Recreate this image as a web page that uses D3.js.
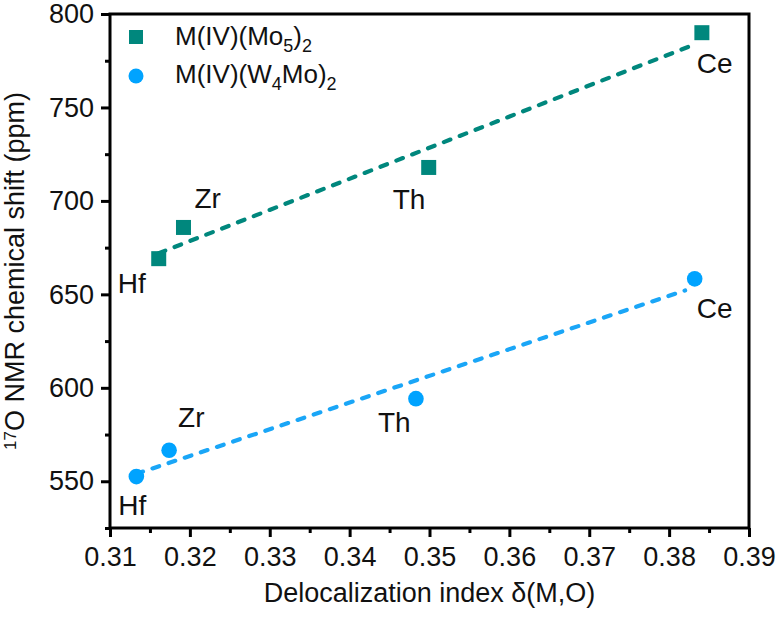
<!DOCTYPE html>
<html>
<head>
<meta charset="utf-8">
<script src="https://cdn.jsdelivr.net/npm/d3@7/dist/d3.min.js"></script>
<style>
  html, body { margin: 0; padding: 0; background: #fff; }
  svg { display: block; }
  text { font-family: "Liberation Sans", Arial, sans-serif; fill: #111; }
</style>
</head>
<body>
<svg id="chart" width="779" height="620"></svg>
<script>
// ---- data ----
const elements = ["Hf", "Zr", "Th", "Ce"];
const delocMo5 = [0.3161, 0.3192, 0.3499, 0.3841];
const shiftMo5 = [669.1, 685.8, 717.9, 790.0];
const delocW4Mo = [0.3133, 0.3174, 0.3483, 0.3832];
const shiftW4Mo = [552.5, 566.6, 594.2, 658.3];
const xTickValues = [0.31, 0.32, 0.33, 0.34, 0.35, 0.36, 0.37, 0.38, 0.39];
const xMinorValues = [0.315, 0.325, 0.335, 0.345, 0.355, 0.365, 0.375, 0.385];
const yTickValues = [550, 600, 650, 700, 750, 800];
const yMinorValues = [525, 575, 625, 675, 725, 775];
const xDomain = [0.31, 0.39];
const yDomain = [525, 800];

// ---- layout ----
const M = { left: 110, right: 749, top: 14, bottom: 528 };
const C1 = "#00877d", C2 = "#00a3ff", C2line = "#1aa6f7";
const svg = d3.select("#chart");
const x = d3.scaleLinear().domain(xDomain).range([M.left, M.right]);
const y = d3.scaleLinear().domain(yDomain).range([M.bottom, M.top]);

// label offsets (dx, dy baseline) for each point
const offMo5 = [[-41, 34], [11, -19], [-36, 42], [-5, 40]];
const offW4Mo = [[-18, 38], [9, -23], [-38, 33], [2, 39]];

function fit(xs, ys) {
  const mx = d3.mean(xs), my = d3.mean(ys);
  let sxy = 0, sxx = 0;
  xs.forEach((v, i) => { sxy += (v - mx) * (ys[i] - my); sxx += (v - mx) ** 2; });
  const b = sxy / sxx, a = my - b * mx;
  const x0 = d3.min(xs), x1 = d3.max(xs) - 0.0012;
  return [[x0, a + b * x0], [x1, a + b * x1]];
}

const line = d3.line().x(d => x(d[0])).y(d => y(d[1]));

// fit lines
svg.append("path").attr("d", line(fit(delocMo5, shiftMo5)))
  .attr("fill", "none").attr("stroke", C1).attr("stroke-width", 4.2)
  .attr("stroke-dasharray", "7,10").attr("stroke-linecap", "round");
svg.append("path").attr("d", line(fit(delocW4Mo, shiftW4Mo)))
  .attr("fill", "none").attr("stroke", C2line).attr("stroke-width", 4.2)
  .attr("stroke-dasharray", "7,10").attr("stroke-linecap", "round");

// markers
const sq = 15;
svg.selectAll("rect.mo5").data(delocMo5).enter().append("rect")
  .attr("x", (d) => x(d) - sq / 2)
  .attr("y", (d, i) => y(shiftMo5[i]) - sq / 2)
  .attr("width", sq).attr("height", sq).attr("fill", C1);
svg.selectAll("circle.w4").data(delocW4Mo).enter().append("circle")
  .attr("cx", d => x(d)).attr("cy", (d, i) => y(shiftW4Mo[i]))
  .attr("r", 7.8).attr("fill", C2);

// point labels
elements.forEach((el, i) => {
  svg.append("text").attr("x", x(delocMo5[i]) + offMo5[i][0])
    .attr("y", y(shiftMo5[i]) + offMo5[i][1]).attr("font-size", 28).text(el);
  svg.append("text").attr("x", x(delocW4Mo[i]) + offW4Mo[i][0])
    .attr("y", y(shiftW4Mo[i]) + offW4Mo[i][1]).attr("font-size", 28).text(el);
});

// axes
const fmtX = d3.format(".2f");
const gx = svg.append("g").attr("transform", `translate(0,${M.bottom})`)
  .call(d3.axisBottom(x).tickValues(xTickValues).tickFormat(fmtX).tickSize(9).tickPadding(10));
const gxm = svg.append("g").attr("transform", `translate(0,${M.bottom})`)
  .call(d3.axisBottom(x).tickValues(xMinorValues).tickFormat("").tickSize(5));
const gy = svg.append("g").attr("transform", `translate(${M.left},0)`)
  .call(d3.axisLeft(y).tickValues(yTickValues).tickSize(9).tickPadding(7));
const gym = svg.append("g").attr("transform", `translate(${M.left},0)`)
  .call(d3.axisLeft(y).tickValues(yMinorValues).tickFormat("").tickSize(5));
[gx, gxm, gy, gym].forEach(g => {
  g.select(".domain").remove();
  g.selectAll(".tick line").attr("stroke", "#000").attr("stroke-width", 3);
  g.selectAll(".tick text").attr("font-size", 27).attr("fill", "#111")
    .attr("font-family", "'Liberation Sans', Arial, sans-serif");
});

// frame
svg.append("rect").attr("x", M.left).attr("y", M.top)
  .attr("width", M.right - M.left).attr("height", M.bottom - M.top)
  .attr("fill", "none").attr("stroke", "#000").attr("stroke-width", 3);

// legend
svg.append("rect").attr("x", 136 - 7).attr("y", 37 - 7).attr("width", 14).attr("height", 14).attr("fill", C1);
svg.append("circle").attr("cx", 136).attr("cy", 76).attr("r", 7.5).attr("fill", C2);
const l1 = svg.append("text").attr("x", 175).attr("y", 45).attr("font-size", 26);
l1.append("tspan").text("M(IV)(Mo");
l1.append("tspan").attr("font-size", 18).attr("dy", 7).text("5");
l1.append("tspan").attr("dy", -7).text(")");
l1.append("tspan").attr("font-size", 18).attr("dy", 7).text("2");
const l2 = svg.append("text").attr("x", 175).attr("y", 83).attr("font-size", 26);
l2.append("tspan").text("M(IV)(W");
l2.append("tspan").attr("font-size", 18).attr("dy", 7).text("4");
l2.append("tspan").attr("dy", -7).text("Mo)");
l2.append("tspan").attr("font-size", 18).attr("dy", 7).text("2");

// axis titles
svg.append("text").attr("x", (M.left + M.right) / 2).attr("y", 602)
  .attr("text-anchor", "middle").attr("font-size", 27)
  .text("Delocalization index δ(M,O)");
const yt = svg.append("text").attr("transform", `translate(24,${(M.top + M.bottom) / 2}) rotate(-90)`)
  .attr("text-anchor", "middle").attr("font-size", 27);
yt.append("tspan").attr("font-size", 17).attr("dy", -8).text("17");
yt.append("tspan").attr("dy", 8).text("O NMR chemical shift (ppm)");
</script>
</body>
</html>
